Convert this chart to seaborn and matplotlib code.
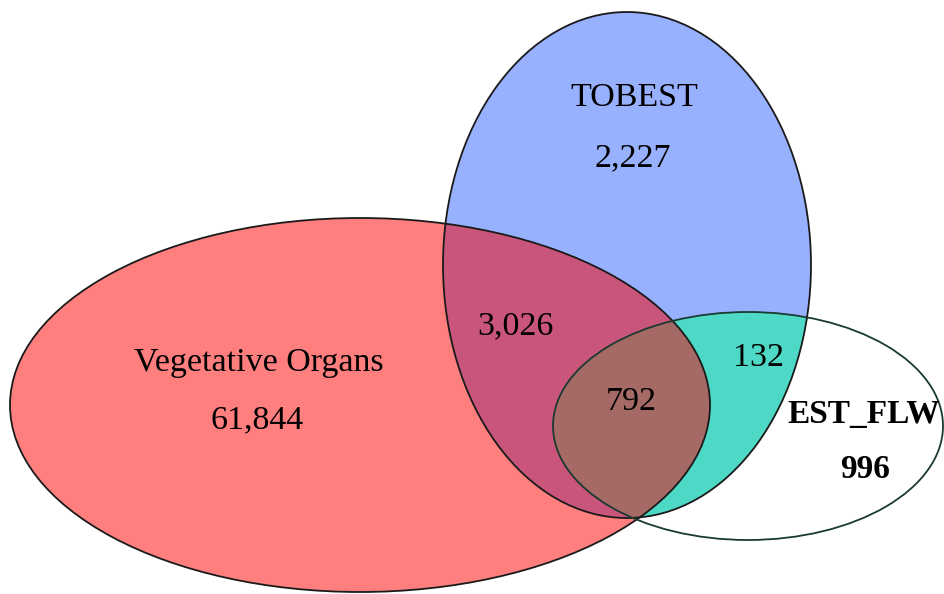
import matplotlib
matplotlib.use("Agg")
import matplotlib.pyplot as plt
from matplotlib.patches import Ellipse
import seaborn as sns

# set names and region counts
set_names = ["Vegetative Organs", "TOBEST", "EST_FLW"]
only_counts = [61844, 2227, 996]
veg_tob = 3026
all_three = 792
tob_flw = 132

# fills
c_veg = "#FF7F7F"
c_tob = "#98B1FF"
c_veg_tob = "#C9557A"
c_tob_flw = "#4DD9C6"
c_all = "#A66A66"

sns.set_theme(style="white")
plt.rcParams["font.family"] = ["Liberation Serif", "DejaVu Serif"]

fig = plt.figure(figsize=(9.45, 5.94), dpi=100)
ax = fig.add_axes([0, 0, 1, 1])
ax.set_xlim(0, 945)
ax.set_ylim(594, 0)
ax.axis("off")

# ellipse geometry (centre, width, height) in pixel-like coords
g_veg = ((360, 405), 700, 374)
g_tob = ((627, 265), 368, 506)
g_flw = ((748, 426), 390, 228)


def ell(g, **kw):
    p = Ellipse(g[0], g[1], g[2], **kw)
    ax.add_patch(p)
    return p


veg = ell(g_veg, facecolor=c_veg, edgecolor="none")
tob = ell(g_tob, facecolor=c_tob, edgecolor="none")
p = ell(g_tob, facecolor=c_veg_tob, edgecolor="none")
p.set_clip_path(veg)
p = ell(g_flw, facecolor=c_tob_flw, edgecolor="none")
p.set_clip_path(tob)
p = ell(g_flw, facecolor=c_all, edgecolor="none")
p.set_clip_path(veg)

# outlines
ell(g_veg, fill=False, edgecolor="#1a1a1a", lw=1.3)
ell(g_tob, fill=False, edgecolor="#1a1a1a", lw=1.3)
ell(g_flw, fill=False, edgecolor="#1a3a30", lw=1.3)

fs = 24.5
txt = dict(ha="center", va="center", fontsize=fs, color="black")
ax.text(259, 363, set_names[0], **txt)
ax.text(257, 420, f"{only_counts[0]:,}", **txt)
ax.text(634, 98, set_names[1], **txt)
ax.text(633, 158, f"{only_counts[1]:,}", **txt)
ax.text(864, 415, set_names[2], fontweight="bold", fontsize=24, ha="center",
        va="center", color="black")
ax.text(865, 470, f"{only_counts[2]:,}", fontweight="bold", fontsize=24,
        ha="center", va="center", color="black")
ax.text(515, 326, f"{veg_tob:,}", **txt)
ax.text(631, 402, f"{all_three:,}", **txt)
ax.text(758, 358, f"{tob_flw:,}", **txt)

fig.savefig("out.png", dpi=100)
